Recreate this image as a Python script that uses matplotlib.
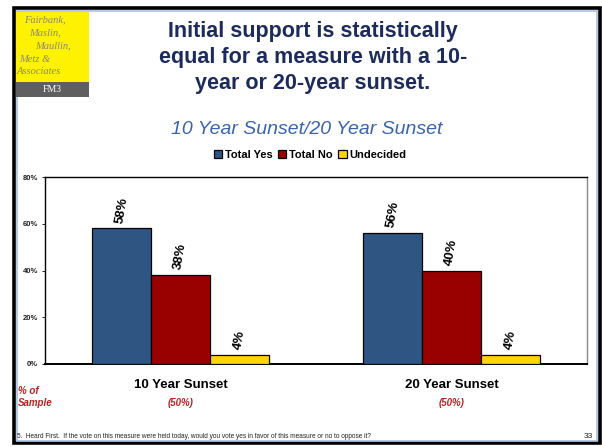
import matplotlib
matplotlib.use("Agg")
import matplotlib.pyplot as plt
from matplotlib.patches import Rectangle
import numpy as np

categories = ["10 Year Sunset", "20 Year Sunset"]
sample_pct = ["(50%)", "(50%)"]
series_names = ["Total Yes", "Total No", "Undecided"]
total_yes = [58, 56]
total_no = [38, 40]
undecided = [4, 4]
yticks = [0, 20, 40, 60, 80]
ytick_labels = ["0%", "20%", "40%", "60%", "80%"]

colors = ["#2F5583", "#990000", "#FFD700"]

W, H = 602, 447
fig = plt.figure(figsize=(W / 100, H / 100), dpi=100)
plt.rcParams["font.family"] = ["Liberation Sans", "DejaVu Sans"]


def fx(x):
    return x / W


def fy(y):
    return 1 - y / H


# slide frame
fig.patches.append(Rectangle((fx(14), fy(443)), fx(586), 435 / H, transform=fig.transFigure,
                             fill=False, edgecolor="black", linewidth=2.6, zorder=0))
fig.patches.append(Rectangle((fx(16.5), fy(440.5)), fx(580), 430 / H, transform=fig.transFigure,
                             fill=False, edgecolor="#A9C1E0", linewidth=1.2, zorder=0))

# logo
fig.patches.append(Rectangle((fx(16), fy(82)), fx(73), 70 / H, transform=fig.transFigure,
                             facecolor="#FFF200", edgecolor="none"))
fig.patches.append(Rectangle((fx(16), fy(97)), fx(73), 15 / H, transform=fig.transFigure,
                             facecolor="#5F5F5F", edgecolor="none"))
logo_lines = [("Fairbank,", 24, 20), ("Maslin,", 29, 33), ("Maullin,", 35, 46), ("Metz &", 19, 59), ("Associates", 17, 72)]
for t, x, y in logo_lines:
    fig.text(fx(x), fy(y), t, fontsize=7.6, family=["Liberation Serif", "DejaVu Serif"], style="italic",
             color="#8A8A70", va="center", ha="left")
fig.text(fx(52.5), fy(89.5), "FM3", fontsize=7, family=["Liberation Serif", "DejaVu Serif"],
         color="white", va="center", ha="center")

# title
title_lines = ["Initial support is statistically", "equal for a measure with a 10-", "year or 20-year sunset."]
for i, t in enumerate(title_lines):
    fig.text(fx(313), fy(32 + 25.5 * i), t, fontsize=15.5, fontweight="bold", color="#1C2B5A",
             ha="center", va="center")
fig.text(fx(307), fy(129), "10 Year Sunset/20 Year Sunset", fontsize=14, style="italic",
         color="#3B64A8", ha="center", va="center")

# axes
ax = fig.add_axes([fx(45), fy(364), fx(542), 187 / H])
x = np.arange(len(categories))
bw = 59 / 271
series = [total_yes, total_no, undecided]
for i, (vals, c, name) in enumerate(zip(series, colors, series_names)):
    pos = x + (i - 1) * bw
    ax.bar(pos, vals, width=bw, color=c, edgecolor="black", linewidth=0.9, label=name, zorder=3)
    for p, v in zip(pos, vals):
        ax.annotate(f"{v}%", (p, v), xytext=(0, 3), textcoords="offset points", rotation=80,
                    ha="center", va="bottom", fontsize=9.5, fontweight="bold",
                    color="black")

ax.set_xlim(-0.5, 1.5)
ax.set_ylim(0, 80)
ax.set_yticks(yticks)
ax.set_yticklabels(ytick_labels, fontsize=5.5, fontweight="bold", color="#222222")
ax.set_xticks([])
ax.tick_params(axis="y", length=2, width=0.6, pad=3)
for s in ["top", "left"]:
    ax.spines[s].set_linewidth(1.0)
    ax.spines[s].set_color("black")
ax.spines["right"].set_color("#888888")
ax.spines["right"].set_linewidth(1.0)
ax.spines["bottom"].set_linewidth(1.4)
ax.spines["bottom"].set_color("black")

leg = fig.legend(loc="center", bbox_to_anchor=(fx(310), fy(155)), ncol=3, frameon=False,
                 prop={"weight": "bold", "size": 8}, handlelength=0.75, handleheight=0.75,
                 handletextpad=0.25, columnspacing=0.5, borderaxespad=0)

# category labels
cat_x = [180.5, 451.5]
for cx, c, s in zip(cat_x, categories, sample_pct):
    fig.text(fx(cx), fy(385), c, fontsize=9.5, fontweight="bold", ha="center", va="center", color="black")
    fig.text(fx(cx), fy(403), s, fontsize=7, style="italic", fontweight="bold", ha="center", va="center",
             color="#B22222")
fig.text(fx(18), fy(391), "% of", fontsize=7, style="italic", fontweight="bold", color="#B22222",
         ha="left", va="center")
fig.text(fx(18), fy(403), "Sample", fontsize=7, style="italic", fontweight="bold", color="#B22222",
         ha="left", va="center")

# footer
fig.text(fx(17), fy(437), "5.  Heard First.  If the vote on this measure were held today, would you vote yes in favor of this measure or no to oppose it?",
         fontsize=4.7, color="#222222", ha="left", va="center")
fig.text(fx(593), fy(437), "33", fontsize=6, color="#222222", ha="right", va="center")

fig.savefig("out.png", dpi=100)
